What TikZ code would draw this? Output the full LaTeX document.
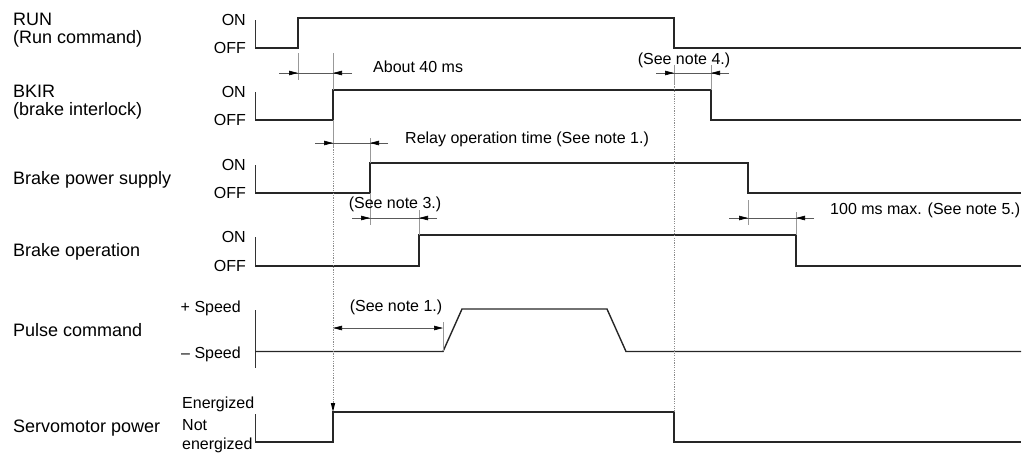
\documentclass[tikz,border=0pt]{standalone}
\usepackage{fontspec}
\setmainfont{Liberation Sans}
\usetikzlibrary{arrows.meta}
\begin{document}
\begin{tikzpicture}[x=1pt,y=-1pt,
  wave/.style={draw=black!85,line width=1.4pt,line join=miter},
  axisline/.style={draw=black!80,line width=0.8pt},
  guide/.style={draw=black!40,line width=0.7pt},
  dotguide/.style={draw=black!45,line width=0.8pt,dash pattern=on 1.2pt off 1.2pt},
  dimline/.style={draw=black!65,line width=0.6pt},
  dimtip/.style={dimline,-{Triangle[length=9pt,width=4.5pt,black]}},
  signame/.style={anchor=base west,font=\fontsize{18}{21}\selectfont,inner sep=0pt},
  level/.style={anchor=east,font=\fontsize{16}{18}\selectfont,inner sep=0pt},
  note/.style={font=\fontsize{16}{18}\selectfont,inner sep=0pt}]
\path[use as bounding box] (0,0) rectangle (1026,453);
% signal names
\node[signame] (runname) at (13,25) {RUN};
\node[signame] (runsub) at (13,43) {(Run command)};
\node[signame] (bkirname) at (13,97) {BKIR};
\node[signame] (bkirsub) at (13,115) {(brake interlock)};
\node[signame] (bpsname) at (13,184) {Brake power supply};
\node[signame] (bopname) at (13,256) {Brake operation};
\node[signame] (pulsename) at (13,336) {Pulse command};
\node[signame] (servoname) at (13,432) {Servomotor power};
% level names
\node[level] (runon) at (246,20) {ON};
\node[level] (runoff) at (246,48) {OFF};
\node[level] (bkiron) at (246,92) {ON};
\node[level] (bkiroff) at (246,120) {OFF};
\node[level] (bpson) at (246,165) {ON};
\node[level] (bpsoff) at (246,193) {OFF};
\node[level] (bopon) at (246,237) {ON};
\node[level] (bopoff) at (246,266) {OFF};
\node[level,anchor=base east] (plus) at (241,312) {+ Speed};
\node[level,anchor=base east] (minus) at (241,358) {– Speed};
\node[level,anchor=base west] (energ) at (182,408) {Energized};
\node[level,anchor=base west] (noten) at (182,430) {Not};
\node[level,anchor=base west] (notenb) at (182,449) {energized};
% level axes
\draw[axisline] (255,20) -- (255,48);
\draw[axisline] (255,92) -- (255,120);
\draw[axisline] (255,165) -- (255,193);
\draw[axisline] (255,237) -- (255,266);
\draw[axisline] (255,310) -- (255,368);
\draw[axisline] (255,414) -- (255,442);
% waveforms
\draw[wave] (255,48) -- (298,48) -- (298,18) -- (674,18) -- (674,48) -- (1021,48);
\draw[wave] (255,120) -- (333,120) -- (333,90) -- (711,90) -- (711,120) -- (1021,120);
\draw[wave] (255,193) -- (370,193) -- (370,163) -- (748,163) -- (748,193) -- (1021,193);
\draw[wave] (255,266) -- (419,266) -- (419,235) -- (796,235) -- (796,266) -- (1021,266);
\draw[wave] (255,351.5) -- (443,351.5) -- (462,309) -- (607,309) -- (626,351.5) -- (1021,351.5);
\draw[wave] (255,442) -- (333,442) -- (333,412) -- (674,412) -- (674,442) -- (1021,442);
% extension lines
\draw[guide] (298,53) -- (298,80);
\draw[guide] (333,53) -- (333,90);
\draw[guide] (333,120) -- (333,147);
\draw[guide] (370,138) -- (370,163);
\draw[guide] (370,193) -- (370,225);
\draw[guide] (419,210) -- (419,235);
\draw[guide] (674,65) -- (674,84);
\draw[guide] (711,65) -- (711,90);
\draw[guide] (748,200) -- (748,225);
\draw[guide] (796,212) -- (796,235);
\draw[guide] (443,322) -- (443,351);
\draw[dotguide] (674,84) -- (674,412);
\draw[dotguide] (333,147) -- (333,404);
\fill[black] (333,412) -- (330.8,403) -- (335.2,403) -- cycle;
% About 40 ms
\draw[dimline] (279,73) -- (352,73);
\draw[dimtip] (279,73) -- (298,73);
\draw[dimtip] (352,73) -- (333,73);
\node[note,anchor=west] (about) at (373,67) {About 40 ms};
% See note 4
\draw[dimline] (656,73) -- (729,73);
\draw[dimtip] (656,73) -- (674,73);
\draw[dimtip] (729,73) -- (711,73);
\node[note] (note4) at (684,60) {(See note 4.)};
% relay operation time
\draw[dimline] (315,143) -- (388,143);
\draw[dimtip] (315,143) -- (333,143);
\draw[dimtip] (388,143) -- (370,143);
\node[note,anchor=west] (relay) at (405,139) {Relay operation time (See note 1.)};
% See note 3
\draw[dimline] (352,218) -- (437,218);
\draw[dimtip] (352,218) -- (370,218);
\draw[dimtip] (437,218) -- (419,218);
\node[note] (note3) at (395,204) {(See note 3.)};
% 100 ms max
\draw[dimline] (729,218) -- (814,218);
\draw[dimtip] (729,218) -- (748,218);
\draw[dimtip] (814,218) -- (796,218);
\node[note,anchor=west] (maxtime) at (830,210) {100 ms max. (See note 5.)};
% pulse delay
\draw[dimline,{Triangle[length=9pt,width=4.5pt,black]}-{Triangle[length=9pt,width=4.5pt,black]}] (333,328) -- (443,328);
\node[note] (note1) at (396,307) {(See note 1.)};
\end{tikzpicture}
\end{document}
